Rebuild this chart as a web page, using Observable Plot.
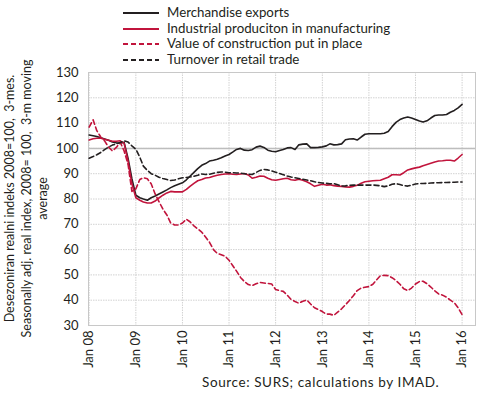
<!DOCTYPE html>
<html><head><meta charset="utf-8">
<script src="https://cdn.jsdelivr.net/npm/d3@7"></script>
<script src="https://cdn.jsdelivr.net/npm/@observablehq/plot@0.6"></script>
<style>
body{margin:0;background:#fff;font-family:Lato,sans-serif;color:#231f20}
#wrap{position:relative;width:490px;height:393px;overflow:hidden}
#legend{position:absolute;left:122px;top:5px;font-size:13.3px;line-height:15.7px;white-space:nowrap}
#legend div{display:flex;align-items:center;height:15.7px}
#legend svg{margin-right:7px}
#chart{position:absolute;left:0;top:56px}
#chart svg{overflow:visible}
#caption{position:absolute;left:202px;top:375px;font-size:13.5px;letter-spacing:0.6px;white-space:nowrap;line-height:15px}
</style>
</head><body>
<div id="wrap">
  <div id="legend"></div>
  <div id="chart"></div>
  <div id="caption">Source: SURS; calculations by IMAD.</div>
</div>
<script>
const seriesNames = ["Merchandise exports","Industrial produciton in manufacturing","Value of construction put in place","Turnover in retail trade"];
const seriesColors = ["#231f20","#c1143c","#c1143c","#231f20"];
const seriesDash = [null,null,"5,3","5,3"];
const yTicks = [30,40,50,60,70,80,90,100,110,120,130];
const yearTicks = [2008,2009,2010,2011,2012,2013,2014,2015,2016];
const yTitle = ["Desezoniran realni indeks 2008=100,  3-mes.","Seasonally adj. real index, 2008= 100,  3-m moving","average"];

// monthly values Jan 2008 .. Jan 2016
const exportsV = [
105.3,105,104.7,104.2,103.7,103.2,102.5,102.2,102,102.4,96,88,
81.5,80.5,80,79.5,80.5,81.2,82,82.8,83.6,84.5,85.2,85.8,
86.4,87.6,89,90.5,92,93.3,94,95,95.3,95.7,96.3,97,
97.6,98.6,99.6,100,99.3,99.2,99.5,100.5,100.9,100.4,99.3,98.9,
98.7,99.2,99.6,100.2,100.3,99.6,101.4,101.7,101.8,100.3,100.3,100.4,
100.6,101,101.8,101.4,101.5,101.8,103.4,103.7,103.8,103.3,104.5,105.6,
105.8,105.8,105.8,105.8,106,106.7,108.6,110.3,111.4,112,112.4,112,
111.4,110.8,110.4,110.9,112,113,113.2,113.2,113.4,114.3,115,116,
117.4];
const industryV = [
103.3,103.8,104,104,103.6,103.2,102.8,102.8,103,102,95,86,
80.5,79.5,78.8,78.4,78.4,79.2,80.4,81.5,82.4,83,82.8,82.8,
82.8,83.8,85,86.2,87.2,87.7,88.3,88.5,89,89.4,89.7,89.9,
90,89.8,89.7,89.9,90.1,89.5,88.2,88.6,89.1,89,88.2,87.6,
87.4,87.7,88,88.2,87.6,87.4,87.8,87.4,86.8,86,85,85.4,
85.8,85.5,85.6,85.3,85.1,85,84.8,84.7,85,85.4,86.2,86.8,
87,87.2,87.3,87.4,88,88.6,89.6,89.6,89.5,90.4,91.5,91.9,
92.3,92.6,93.1,93.6,94.1,94.6,95,95.1,95.3,95.3,95,96.2,
97.6];
const constructionV = [
108.4,111.3,107,104.5,103,100.5,99,100.4,102.4,99,93.7,83,
84,87.7,88.4,88,86,82,79,76,73.7,70.5,69.7,69.7,
70.5,72,71,69.4,68.2,66.9,65,62.9,60,58.5,58,57.4,
55.8,53.5,51.5,49,47.4,46.2,45.8,46.5,47,46.8,46.6,46.4,
44.2,43.8,43.5,42,40.3,39.5,38.8,39.6,40.1,38.5,37,36.3,
35.5,34.5,34.5,34,35.3,36.6,38.2,39.9,41.8,43.8,44.8,45.1,
45.4,46.3,48,49.7,49.8,49.7,48.9,47.8,46.3,44.5,43.8,44.8,
46.4,47.4,47.5,46.5,45.2,43.7,42.5,42,41.2,40,39,37,
34.3];
const retailV = [
96.1,96.8,97.5,98.4,99.5,100.5,101.3,101.8,102.3,103,102.5,101,
99.7,96.5,93,91.3,90,89.4,88.6,88.1,87.7,87.3,87.5,88,
88.4,88.5,88.7,89,89.4,89.9,89.7,89.8,90.2,90.5,90.7,90.6,
90.4,90.4,90.3,90.2,90,89.8,89.7,90.5,91.3,91.7,91.5,91.1,
90.6,90.1,89.6,89.1,88.7,88.4,88.1,87.8,87.5,87.2,86.8,86.5,
86.3,86.2,86,86.1,85.6,85.1,85.2,85.4,85.5,85.5,85.5,85.5,
85.5,85.5,85.4,85.2,84.9,85.2,85.8,86.1,85.7,85.3,85.1,85.5,
85.9,86.1,86.1,86.2,86.3,86.4,86.4,86.5,86.5,86.6,86.6,86.7,
86.7];

const allSeries = [exportsV, industryV, constructionV, retailV];
const rows = [];
allSeries.forEach((vals, s) => vals.forEach((v, i) => rows.push({s, date: new Date(Date.UTC(2008, i, 1)), v})));

// legend
const leg = document.getElementById("legend");
seriesNames.forEach((n, i) => {
  const d = document.createElement("div");
  d.innerHTML = `<svg width="38" height="4"><line x1="1" x2="37" y1="2" y2="2" stroke="${seriesColors[i]}" stroke-width="2" ${seriesDash[i] ? `stroke-dasharray="${seriesDash[i]}"` : ""}/></svg><span>${n}</span>`;
  leg.appendChild(d);
});

const yearDates = yearTicks.map(y => new Date(Date.UTC(y, 0, 1)));
const fmt = d3.utcFormat("Jan %y");

const chart = Plot.plot({
  width: 490, height: 314,
  marginTop: 16, marginLeft: 88, marginRight: 15, marginBottom: 45,
  style: {fontFamily: 'Lato, sans-serif', fontSize: "13px", color: "#231f20", background: "transparent", overflow: "visible"},
  x: {type: "utc", domain: [new Date(Date.UTC(2007, 11, 27)), new Date(Date.UTC(2016, 3, 15))], label: null},
  y: {domain: [30, 130], label: null},
  marks: [
    Plot.gridY(yTicks, {stroke: "#d2d2d2", strokeOpacity: 1, strokeDasharray: "1.5,1"}),
    Plot.gridX(yearDates, {stroke: "#d2d2d2", strokeOpacity: 1, strokeDasharray: "1.5,1"}),
    Plot.ruleY([100], {stroke: "#bdbdbd", strokeWidth: 1.5}),
    Plot.frame({stroke: "#c8c8c8"}),
    Plot.axisY(yTicks, {tickSize: 0, tickPadding: 10, fontSize: 13, fill: "#231f20"}),
    Plot.axisX(yearDates, {tickSize: 0, tickPadding: 5, tickRotate: -90, tickFormat: fmt, fontSize: 13, fill: "#231f20"}),
    ...allSeries.map((vals, s) => Plot.line(rows.filter(r => r.s === s), {
      x: "date", y: "v", stroke: seriesColors[s], strokeWidth: 1.6,
      strokeDasharray: seriesDash[s] || undefined, curve: "linear"
    }))
  ]
});
document.getElementById("chart").appendChild(chart);

// y-axis title (three rotated lines)
const svg = d3.select(chart);
const cy = 142.5;
const g = svg.append("g").attr("fill", "#231f20").attr("font-size", 12.5).attr("font-family", "Lato, sans-serif").attr("text-anchor", "middle");
[10, 27, 43].forEach((x, i) => {
  g.append("text").attr("transform", `translate(${x},${cy}) rotate(-90)`).attr("dy", "0.35em").text(yTitle[i]);
});
</script>
</body></html>
